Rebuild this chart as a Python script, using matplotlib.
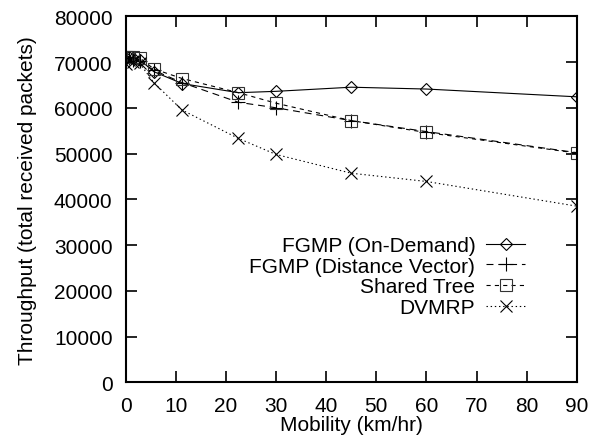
import matplotlib
matplotlib.use("Agg")
import matplotlib.pyplot as plt

# mobility (km/hr) and throughput for each protocol
mobility = [0, 0.7, 1.4, 2.8, 5.6, 11.25, 22.5, 30, 45, 60, 90]
fgmp_od = [70800, 71000, 70800, 70500, 67900, 65300, 63300, 63600, 64500, 64100, 62400]
fgmp_dv = [71000, 70800, 70500, 70200, 68200, 65500, 61200, 60000, 57200, 54800, 50200]
shared_tree = [71200, 71200, 71000, 70900, 68500, 66400, 63300, 61000, 57200, 54600, 50100]
dvmrp = [69500, 70500, 70000, 69700, 65500, 59500, 53300, 49800, 45700, 43900, 38500]

plt.rcParams['font.family'] = ['Liberation Sans', 'DejaVu Sans']
plt.rcParams['font.size'] = 15
plt.rcParams['lines.scale_dashes'] = False

fig = plt.figure(figsize=(5.97, 4.39), dpi=100)
ax = fig.add_axes([0.2106, 0.1269, 0.7555, 0.8337])

lw = 0.8
ax.plot(mobility, fgmp_od, color='black', lw=lw, ls='-', marker='D', ms=6.5,
        mfc='none', mec='black', mew=0.8, label='FGMP (On-Demand)')
ax.plot(mobility, fgmp_dv, color='black', lw=lw, ls=(0, (5, 3.5)), marker='+', ms=10,
        mew=0.8, label='FGMP (Distance Vector)')
ax.plot(mobility, shared_tree, color='black', lw=lw, ls=(0, (3, 3)), marker='s', ms=9,
        mfc='none', mec='#333333', mew=0.8, label='Shared Tree')
ax.plot(mobility, dvmrp, color='black', lw=lw, ls=(0, (1, 2)), marker='x', ms=9,
        mew=0.8, label='DVMRP')

ax.set_xlim(0, 90)
ax.set_ylim(0, 80000)
ax.set_xticks(range(0, 91, 10))
ax.set_yticks(range(0, 80001, 10000))
ax.tick_params(direction='in', length=8, width=1.2, top=True, right=True)
ax.tick_params(axis='x', pad=10)
ax.tick_params(axis='y', pad=9.5)
for s in ax.spines.values():
    s.set_linewidth(1.5)

ax.set_xlabel('Mobility (km/hr)', labelpad=0)
ax.set_ylabel('Throughput (total received packets)', labelpad=12)

ax.legend(loc='center right', bbox_to_anchor=(0.885, 0.289), markerfirst=False,
          frameon=False, handlelength=1.85, handletextpad=0.53, labelspacing=0.08,
          borderpad=0, borderaxespad=0)

fig.savefig('out.png', dpi=100)
